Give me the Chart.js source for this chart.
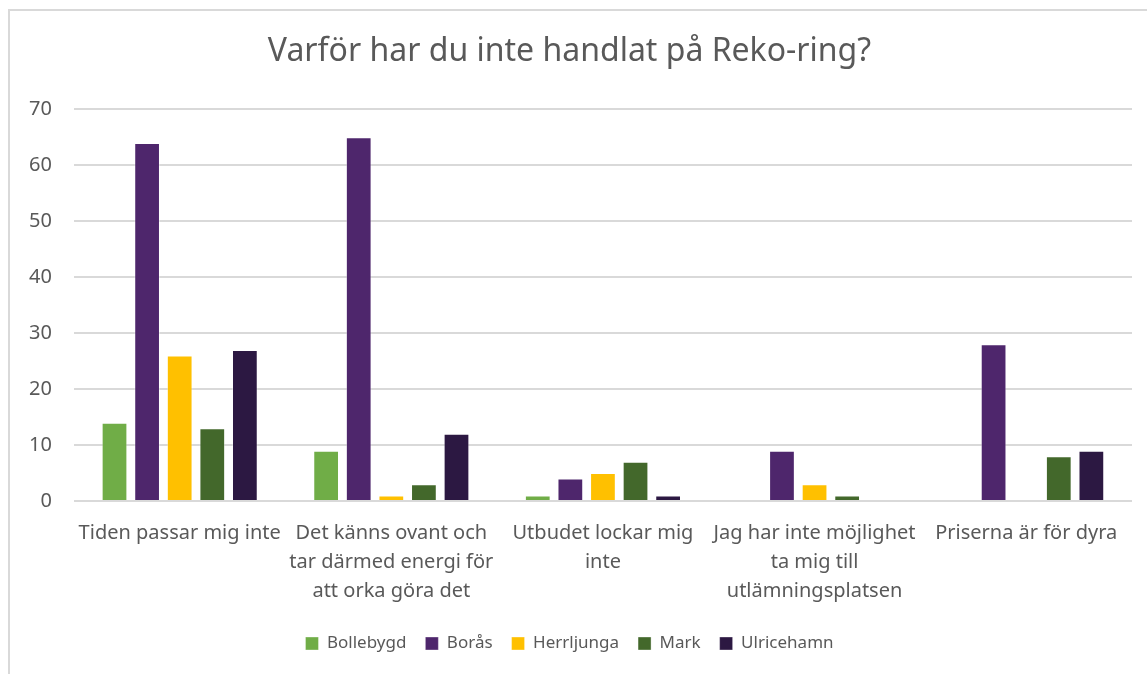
<!DOCTYPE html>
<html>
<head>
<meta charset="utf-8">
<script src="https://cdn.jsdelivr.net/npm/chart.js"></script>
<style>
    html, body { margin: 0; padding: 0; background: #fff; overflow: hidden; }
    #frame {
        position: absolute; left: 8px; top: 9px; width: 1160px; height: 700px;
        border-left: 2px solid #d9d9d9; border-top: 2px solid #d9d9d9;
    }
    #wrap { position: absolute; left: 7px; top: 11px; width: 1150px; height: 684px; }
</style>
</head>
<body>
<div id="frame"></div>
<div id="wrap"><canvas id="chart"></canvas></div>
<script>
    const CATEGORIES = [
        "Tiden passar mig inte",
        ["Det känns ovant och", "tar därmed energi för", "att orka göra det"],
        ["Utbudet lockar mig", "inte"],
        ["Jag har inte möjlighet", "ta mig till", "utlämningsplatsen"],
        "Priserna är för dyra"
    ]
    const BOLLEBYGD = [14, 9, 1, 0, 0]
    const BORAS = [64, 65, 4, 9, 28]
    const HERRLJUNGA = [26, 1, 5, 3, 0]
    const MARK = [13, 3, 7, 1, 8]
    const ULRICEHAMN = [27, 12, 1, 0, 9]
    const Y_TICKS = [0, 10, 20, 30, 40, 50, 60, 70]

    const textColor = "#595959"
    const font = "'Noto Sans', sans-serif"

    const mkSet = (label, data, color) => ({
        label: label,
        data: data,
        backgroundColor: color,
        borderColor: "rgba(255,255,255,0.35)",
        borderWidth: 1,
        categoryPercentage: 0.77,
        barPercentage: 0.79
    })

    const data = {
        labels: CATEGORIES,
        datasets: [
            mkSet("Bollebygd", BOLLEBYGD, "#70AD47"),
            mkSet("Borås", BORAS, "#4E266C"),
            mkSet("Herrljunga", HERRLJUNGA, "#FFC000"),
            mkSet("Mark", MARK, "#43682B"),
            mkSet("Ulricehamn", ULRICEHAMN, "#2C1842")
        ]
    }

    const config = {
        type: 'bar',
        data: data,
        options: {
            animation: false,
            responsive: true,
            maintainAspectRatio: false,
            layout: {
                padding: {left: 0, right: 25, top: 22, bottom: 33}
            },
            plugins: {
                legend: {
                    position: 'bottom',
                    labels: {
                        color: textColor,
                        font: {family: font, size: 17},
                        boxWidth: 13,
                        boxHeight: 13,
                        padding: 19
                    }
                },
                title: {
                    display: true,
                    text: 'Varför har du inte handlat på Reko-ring?',
                    color: textColor,
                    font: {family: font, size: 32, weight: 'normal'},
                    padding: {top: 0, bottom: 38}
                },
                tooltip: {enabled: false}
            },
            scales: {
                x: {
                    grid: {display: false},
                    border: {display: false},
                    ticks: {
                        color: textColor,
                        font: {family: font, size: 20, lineHeight: 1.45},
                        maxRotation: 0,
                        autoSkip: false,
                        padding: 10
                    }
                },
                y: {
                    min: 0,
                    max: 70,
                    afterBuildTicks: axis => { axis.ticks = Y_TICKS.map(v => ({value: v})) },
                    grid: {color: "#d9d9d9", lineWidth: 2, drawTicks: false},
                    border: {display: false},
                    ticks: {
                        color: textColor,
                        font: {family: font, size: 20},
                        padding: 22
                    }
                }
            }
        }
    }
    const ctx = document.getElementById('chart').getContext('2d')
    const myChart = new Chart(ctx, config)
</script>
</body>
</html>
